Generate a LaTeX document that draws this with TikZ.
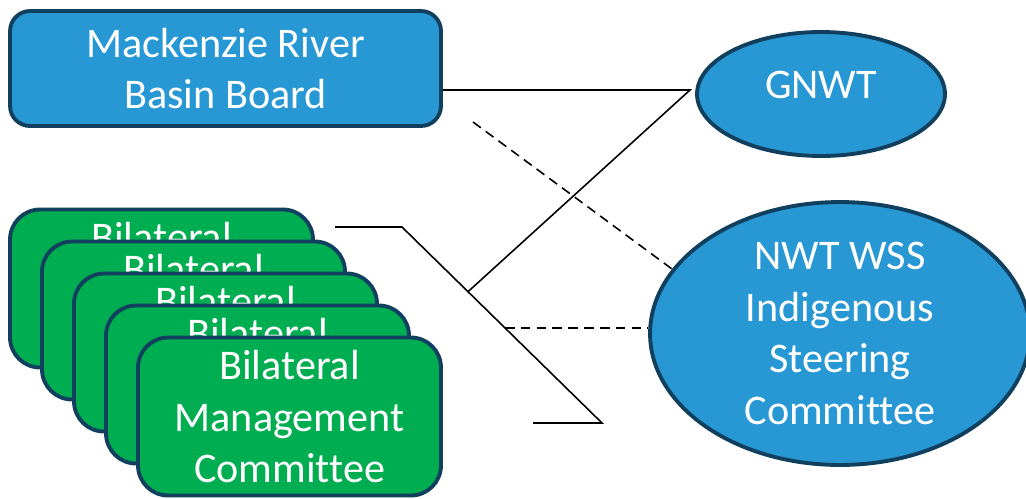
\documentclass[tikz,border=0pt]{standalone}
\usepackage{fontspec}
\setmainfont{Carlito}[Ligatures=NoCommon]
\usepackage{tikz}
\usetikzlibrary{shapes.geometric,calc}
\definecolor{boardBlue}{RGB}{40,152,213}
\definecolor{bmcGreen}{RGB}{0,173,80}
\definecolor{edgeNavy}{RGB}{17,63,94}

\begin{document}
\begin{tikzpicture}[x=0.02cm,y=-0.02cm,
  every node/.style={draw=edgeNavy,line width=2.2pt,text=white,align=center,inner sep=0pt,font=\fontsize{24}{29.5}\selectfont},
  board/.style={rectangle,rounded corners=0.4cm,fill=boardBlue,minimum width=8.62cm,minimum height=2.3cm},
  bmc/.style={rectangle,rounded corners=0.6cm,fill=bmcGreen,minimum width=6.06cm,minimum height=3.16cm},
  party/.style={ellipse,fill=boardBlue},
  link/.style={line width=0.9pt},
  loose/.style={link,dash pattern=on 5.5pt off 3.5pt}]
  \useasboundingbox (0,0) rectangle (1026,498);

  \node[board] (mrbb) at (225.5,68.5) {Mackenzie River\\Basin Board};
  \foreach \i in {1,...,5} {
    \node[bmc] (bmc\i) at (161.5+32*\i-32,288.5+32*\i-32) {Bilateral\\Management\\Committee};
  }
  \node[party,minimum width=4.96cm,minimum height=2.48cm,text depth=0.38cm] (gnwt) at (821,94) {GNWT};
  \node[party,minimum width=7.6cm,minimum height=5.26cm] (wss) at (840,333.5) {NWT WSS\\Indigenous\\Steering\\Committee};

  % bends and loose ends of the connectors
  \coordinate (g1) at (690,90);
  \coordinate (k1) at (335,227);
  \coordinate (k2) at (402,227);
  \coordinate (k3) at (602,423);
  \coordinate (k4) at (533,423);
  \coordinate (d1) at (473,122);

  \draw[link] (k1) -- (k2) -- (k3) -- (k4);
  \draw[link] (mrbb.east |- g1) -- (g1) -- ($(k2)!0.33!(k3)$);
  \draw[loose] (d1) -- (wss.159);
  \draw[loose] ($(k2)!0.515!(k3)$) coordinate (k5) -- (k5 -| wss.west);
\end{tikzpicture}
\end{document}
